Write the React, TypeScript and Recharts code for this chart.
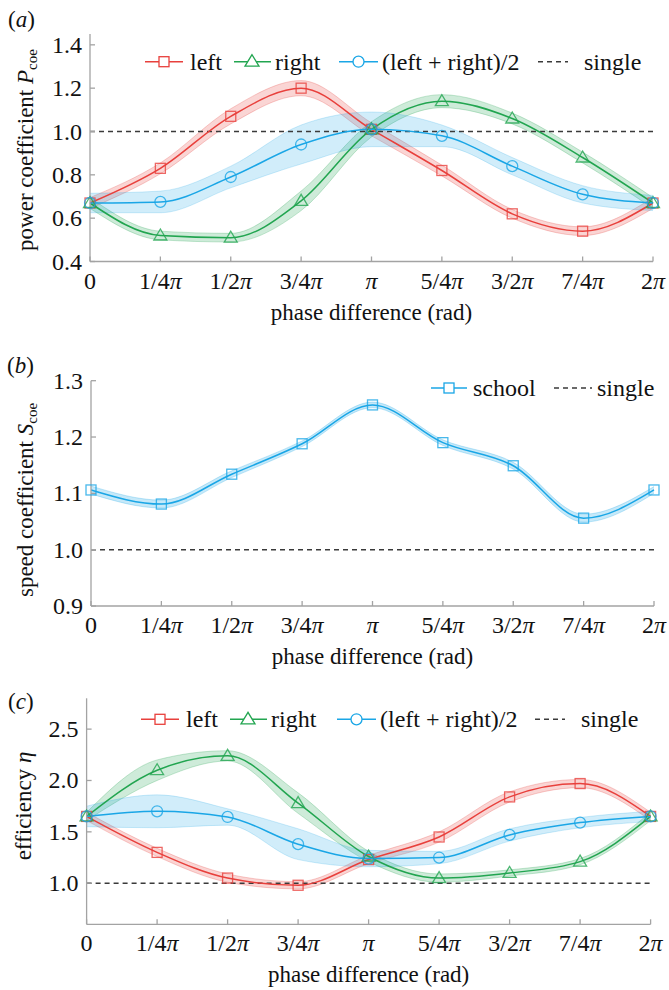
import React from "react";
import { ComposedChart, Line, Area, XAxis, YAxis, ReferenceLine } from "recharts";

const serif = "'Liberation Serif', 'Times New Roman', serif";
const FS = 23;
const TICK_FS = 24;
const LEG_FS = 24;

// x categories: phase difference
const phaseIdx = [0, 1, 2, 3, 4, 5, 6, 7, 8];
const phaseLabels = ["0", "1/4π", "1/2π", "3/4π", "π", "5/4π", "3/2π", "7/4π", "2π"];

// (a) power coefficient
const powerLeft = [0.67, 0.83, 1.07, 1.2, 1.01, 0.82, 0.62, 0.54, 0.67];
const powerLeftErr = [0.025, 0.025, 0.035, 0.035, 0.03, 0.025, 0.02, 0.02, 0.025];
const powerRight = [0.67, 0.52, 0.51, 0.68, 1.01, 1.14, 1.06, 0.88, 0.67];
const powerRightErr = [0.025, 0.02, 0.02, 0.045, 0.035, 0.03, 0.025, 0.025, 0.025];
const powerAvg = [0.67, 0.675, 0.79, 0.94, 1.01, 0.98, 0.84, 0.71, 0.67];
const powerAvgErr = [0.045, 0.05, 0.05, 0.09, 0.08, 0.05, 0.04, 0.04, 0.035];

// (b) speed coefficient
const speedSchool = [1.106, 1.081, 1.134, 1.188, 1.257, 1.19, 1.149, 1.056, 1.106];
const speedSchoolErr = [0.007, 0.007, 0.006, 0.005, 0.005, 0.005, 0.006, 0.007, 0.006];

// (c) efficiency
const effLeft = [1.65, 1.3, 1.05, 0.98, 1.23, 1.45, 1.84, 1.97, 1.65];
const effLeftErr = [0.04, 0.04, 0.04, 0.035, 0.04, 0.05, 0.05, 0.04, 0.04];
const effRight = [1.65, 2.1, 2.24, 1.78, 1.26, 1.05, 1.1, 1.21, 1.65];
const effRightErr = [0.04, 0.1, 0.05, 0.1, 0.05, 0.04, 0.03, 0.03, 0.04];
const effAvg = [1.65, 1.7, 1.645, 1.38, 1.24, 1.25, 1.47, 1.59, 1.65];
const effAvgErr = [0.1, 0.16, 0.08, 0.15, 0.08, 0.06, 0.06, 0.05, 0.05];

const RED = "#e8403c";
const GREEN = "#22a550";
const BLUE = "#1aa6e6";
const AXIS = "#a3a3a3";
const DASH = "#3a3a3a";

const band = (v: number[], e: number[], i: number) => [v[i] - e[i], v[i] + e[i]];

const dataA = phaseIdx.map((x, i) => ({
  x,
  left: powerLeft[i],
  leftBand: band(powerLeft, powerLeftErr, i),
  right: powerRight[i],
  rightBand: band(powerRight, powerRightErr, i),
  avg: powerAvg[i],
  avgBand: band(powerAvg, powerAvgErr, i),
}));

const dataB = phaseIdx.map((x, i) => ({
  x,
  school: speedSchool[i],
  schoolBand: band(speedSchool, speedSchoolErr, i),
}));

const dataC = phaseIdx.map((x, i) => ({
  x,
  left: effLeft[i],
  leftBand: band(effLeft, effLeftErr, i),
  right: effRight[i],
  rightBand: band(effRight, effRightErr, i),
  avg: effAvg[i],
  avgBand: band(effAvg, effAvgErr, i),
}));

// hollow markers
const squareDot = (color: string) => (p: any) => (
  <rect key={p.index} x={p.cx - 5} y={p.cy - 5} width={10} height={10} fill="none" stroke={color} strokeOpacity={0.8} strokeWidth={1.3} />
);
const triDot = (color: string) => (p: any) => (
  <polygon key={p.index} points={`${p.cx},${p.cy - 6.5} ${p.cx - 6.5},${p.cy + 4.5} ${p.cx + 6.5},${p.cy + 4.5}`} fill="none" stroke={color} strokeOpacity={0.8} strokeWidth={1.3} />
);
const circleDot = (color: string) => (p: any) => (
  <circle key={p.index} cx={p.cx} cy={p.cy} r={5.5} fill="none" stroke={color} strokeOpacity={0.8} strokeWidth={1.3} />
);

const PhaseTick = (props: any) => {
  const { x, y, payload } = props;
  const label = phaseLabels[payload.value];
  const hasPi = label.includes("π");
  return (
    <text x={x} y={y + 27} textAnchor="middle" fontSize={TICK_FS} fontFamily={serif} fill="#111">
      {label.replace("π", "")}
      {hasPi && <tspan fontStyle="italic">π</tspan>}
    </text>
  );
};

const ValueTick = (props: any) => {
  const { x, y, payload } = props;
  return (
    <text x={x - 8} y={y + 8} textAnchor="end" fontSize={TICK_FS} fontFamily={serif} fill="#111">
      {Number(payload.value).toFixed(1)}
    </text>
  );
};

const XLabel = (props: any) => {
  const { viewBox } = props;
  return (
    <text x={viewBox.x + viewBox.width / 2} y={viewBox.y + 58} textAnchor="middle" fontSize={FS} fontFamily={serif} fill="#111">
      phase difference (rad)
    </text>
  );
};

const xAxisProps = (height: number) => ({
  dataKey: "x",
  type: "number" as const,
  domain: [0, 8],
  ticks: phaseIdx,
  height,
  tickSize: -5,
  tickMargin: 5,
  stroke: AXIS,
  strokeWidth: 1.3,
  tick: <PhaseTick />,
  label: <XLabel />,
  interval: 0 as const,
});

const yAxisProps = (width: number, domain: number[], ticks: number[]) => ({
  type: "number" as const,
  domain,
  ticks,
  width,
  tickSize: -5,
  tickMargin: 5,
  stroke: AXIS,
  strokeWidth: 1.3,
  tick: <ValueTick />,
  allowDataOverflow: true,
  interval: 0 as const,
});

const Legend3 = ({ y, xs }: { y: number; xs: number[] }) => {
  // xs: start of the red, green, blue and dashed legend samples
  const [r, g, b, d] = xs;
  const ty = y + 8;
  const t = { fontSize: LEG_FS, fontFamily: serif, fill: "#111" };
  return (
    <g>
      <line x1={r} x2={r + 38} y1={y} y2={y} stroke={RED} strokeWidth={1.5} />
      <rect x={r + 14} y={y - 5} width={10} height={10} fill="#fff" stroke={RED} strokeWidth={1.3} />
      <text x={r + 45} y={ty} {...t}>left</text>
      <line x1={g} x2={g + 37} y1={y} y2={y} stroke={GREEN} strokeWidth={1.5} />
      <polygon points={`${g + 18},${y - 7} ${g + 11},${y + 4.5} ${g + 25},${y + 4.5}`} fill="#fff" stroke={GREEN} strokeWidth={1.3} />
      <text x={g + 41} y={ty} {...t}>right</text>
      <line x1={b} x2={b + 39} y1={y} y2={y} stroke={BLUE} strokeWidth={1.5} />
      <circle cx={b + 19.5} cy={y} r={5.5} fill="#fff" stroke={BLUE} strokeWidth={1.3} />
      <text x={b + 43} y={ty} {...t}>(left + right)/2</text>
      <line x1={d} x2={d + 30} y1={y} y2={y} stroke={DASH} strokeWidth={1.5} strokeDasharray="5 4" />
      <text x={d + 46} y={ty} {...t}>single</text>
    </g>
  );
};

export default function App() {
  const t = { fontSize: FS, fontFamily: serif, fill: "#111" };
  const sub = { fontSize: 15 };
  return (
    <div style={{ position: "absolute", left: 0, top: 0, width: 669, height: 990, background: "#fff" }}>
      {/* (a) */}
      <div style={{ position: "absolute", left: 0, top: 0 }}>
        <ComposedChart width={669} height={330} data={dataA} margin={{ top: 34, right: 16, bottom: 0, left: 0 }}>
          <XAxis {...xAxisProps(68.5)} />
          <YAxis {...yAxisProps(90, [0.4, 1.45], [0.4, 0.6, 0.8, 1.0, 1.2, 1.4])} />
          <Area dataKey="leftBand" type="monotone" fill={RED} fillOpacity={0.22} stroke={RED} strokeOpacity={0.25} isAnimationActive={false} />
          <Area dataKey="rightBand" type="monotone" fill={GREEN} fillOpacity={0.22} stroke={GREEN} strokeOpacity={0.25} isAnimationActive={false} />
          <Area dataKey="avgBand" type="monotone" fill={BLUE} fillOpacity={0.2} stroke={BLUE} strokeOpacity={0.2} isAnimationActive={false} />
          <ReferenceLine y={1} stroke={DASH} strokeWidth={1.5} strokeDasharray="5 4" />
          <Line dataKey="left" type="monotone" stroke={RED} strokeWidth={1.5} dot={squareDot(RED)} activeDot={false} isAnimationActive={false} />
          <Line dataKey="right" type="monotone" stroke={GREEN} strokeWidth={1.5} dot={triDot(GREEN)} activeDot={false} isAnimationActive={false} />
          <Line dataKey="avg" type="monotone" stroke={BLUE} strokeWidth={1.5} dot={circleDot(BLUE)} activeDot={false} isAnimationActive={false} />
        </ComposedChart>
      </div>

      {/* (b) */}
      <div style={{ position: "absolute", left: 0, top: 330 }}>
        <ComposedChart width={669} height={340} data={dataB} margin={{ top: 50.7, right: 15, bottom: 0, left: 0 }}>
          <XAxis {...xAxisProps(64)} />
          <YAxis {...yAxisProps(91, [0.9, 1.3], [0.9, 1.0, 1.1, 1.2, 1.3])} />
          <Area dataKey="schoolBand" type="monotone" fill={BLUE} fillOpacity={0.25} stroke={BLUE} strokeOpacity={0.25} isAnimationActive={false} />
          <ReferenceLine y={1} stroke={DASH} strokeWidth={1.5} strokeDasharray="5 4" />
          <Line dataKey="school" type="monotone" stroke={BLUE} strokeWidth={1.5} dot={squareDot(BLUE)} activeDot={false} isAnimationActive={false} />
        </ComposedChart>
      </div>

      {/* (c) */}
      <div style={{ position: "absolute", left: 0, top: 670 }}>
        <ComposedChart width={669} height={320} data={dataC} margin={{ top: 28.3, right: 18.4, bottom: 0, left: 0 }}>
          <XAxis {...xAxisProps(65.7)} />
          <YAxis {...yAxisProps(86.6, [0.6, 2.8], [1.0, 1.5, 2.0, 2.5])} />
          <Area dataKey="leftBand" type="monotone" fill={RED} fillOpacity={0.22} stroke={RED} strokeOpacity={0.25} isAnimationActive={false} />
          <Area dataKey="rightBand" type="monotone" fill={GREEN} fillOpacity={0.22} stroke={GREEN} strokeOpacity={0.25} isAnimationActive={false} />
          <Area dataKey="avgBand" type="monotone" fill={BLUE} fillOpacity={0.2} stroke={BLUE} strokeOpacity={0.2} isAnimationActive={false} />
          <ReferenceLine y={1} stroke={DASH} strokeWidth={1.5} strokeDasharray="5 4" />
          <Line dataKey="left" type="monotone" stroke={RED} strokeWidth={1.5} dot={squareDot(RED)} activeDot={false} isAnimationActive={false} />
          <Line dataKey="right" type="monotone" stroke={GREEN} strokeWidth={1.5} dot={triDot(GREEN)} activeDot={false} isAnimationActive={false} />
          <Line dataKey="avg" type="monotone" stroke={BLUE} strokeWidth={1.5} dot={circleDot(BLUE)} activeDot={false} isAnimationActive={false} />
        </ComposedChart>
      </div>

      {/* panel letters, axis titles, legends */}
      <svg width={669} height={990} style={{ position: "absolute", left: 0, top: 0, pointerEvents: "none" }}>
        <text x={8} y={27} {...t}>(<tspan fontStyle="italic">a</tspan>)</text>
        <text x={7} y={373} {...t}>(<tspan fontStyle="italic">b</tspan>)</text>
        <text x={8} y={709} {...t}>(<tspan fontStyle="italic">c</tspan>)</text>

        <text transform="translate(33,150) rotate(-90)" textAnchor="middle" {...t}>
          power coefficient <tspan fontStyle="italic">P</tspan>
          <tspan {...sub} dy={4}>coe</tspan>
        </text>
        <text transform="translate(33,500) rotate(-90)" textAnchor="middle" {...t}>
          speed coefficient <tspan fontStyle="italic">S</tspan>
          <tspan {...sub} dy={4}>coe</tspan>
        </text>
        <text transform="translate(31,806) rotate(-90)" textAnchor="middle" {...t}>
          efficiency <tspan fontStyle="italic">η</tspan>
        </text>

        <Legend3 y={61.7} xs={[145, 234, 339, 538]} />
        <Legend3 y={719.3} xs={[141, 230, 337, 535]} />

        <g>
          <line x1={431} x2={467} y1={388} y2={388} stroke={BLUE} strokeWidth={1.5} />
          <rect x={444} y={383} width={10} height={10} fill="#fff" stroke={BLUE} strokeWidth={1.3} />
          <text x={473} y={396} fontSize={LEG_FS} fontFamily={serif} fill="#111">school</text>
          <line x1={554} x2={592} y1={388} y2={388} stroke={DASH} strokeWidth={1.5} strokeDasharray="5 4" />
          <text x={597} y={396} fontSize={LEG_FS} fontFamily={serif} fill="#111">single</text>
        </g>
      </svg>
    </div>
  );
}
